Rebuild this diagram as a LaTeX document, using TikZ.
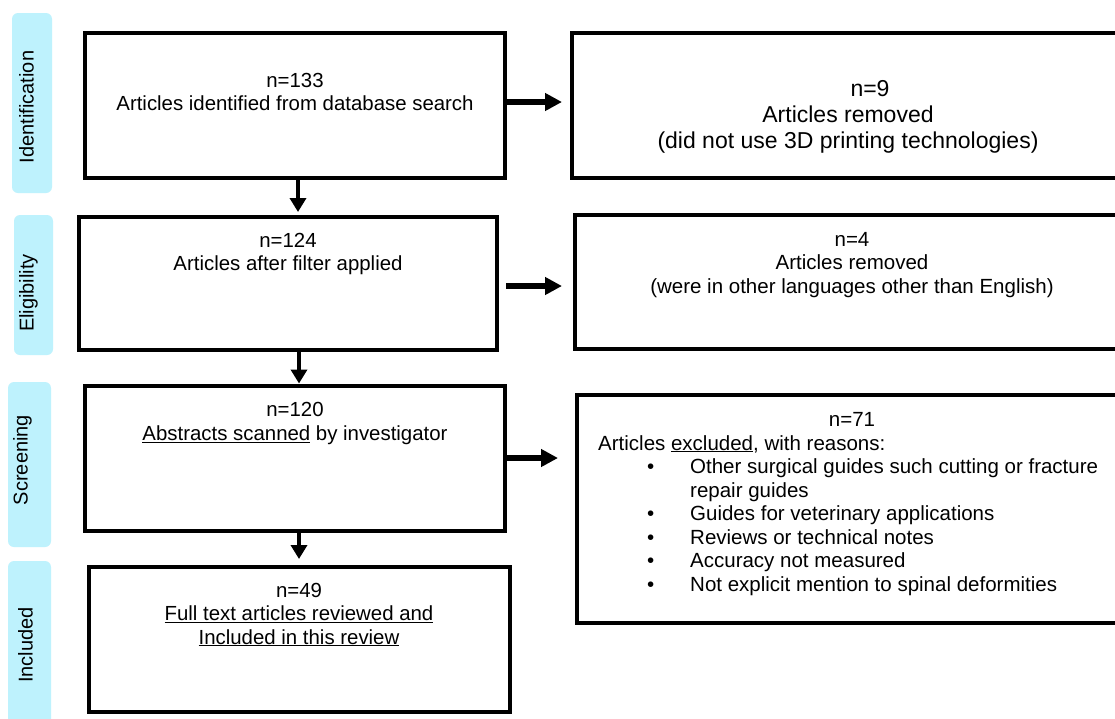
\documentclass[tikz,border=0pt]{standalone}
\usepackage{fontspec}
\setmainfont{Liberation Sans}
\usetikzlibrary{arrows.meta}
\definecolor{labelcyan}{RGB}{190,242,253}
\begin{document}
\begin{tikzpicture}[x=1pt,y=-1pt,
  box/.style={draw=black, line width=4pt, rectangle, inner sep=0pt},
  lab/.style={fill=labelcyan, draw=none, rectangle, rounded corners=6pt, inner sep=0pt},
  labtext/.style={rotate=90, anchor=base, inner sep=0pt, font=\fontsize{20}{24}\selectfont},
  txt/.style={anchor=north, inner sep=0pt, align=center, font=\fontsize{20.4}{23.3}\selectfont},
  harrow/.style={line width=5.5pt, -{Triangle[length=17pt,width=17pt]}},
  varrow/.style={line width=4pt, -{Triangle[length=14pt,width=16pt]}}]
\clip (0,0) rectangle (1115,718);
\fill[white] (0,0) rectangle (1115,718);

% side labels
\node[lab, minimum width=40pt, minimum height=180pt] (L1) at (32,103) {};
\node[labtext] (L1t) at (33.5,107) {Identification};
\node[lab, minimum width=39pt, minimum height=140pt] (L2) at (33.5,285) {};
\node[labtext] (L2t) at (33.6,293) {Eligibility};
\node[lab, minimum width=43pt, minimum height=165pt] (L3) at (29.5,464.5) {};
\node[labtext] (L3t) at (27.5,460) {Screening};
\node[lab, minimum width=43pt, minimum height=180pt] (L4) at (29.5,651) {};
\node[labtext] (L4t) at (32.5,645) {Included};

% boxes
\node[box, minimum width=420pt, minimum height=145pt] (b1) at (295,105.5) {};
\node[box, minimum width=558pt, minimum height=145pt] (b2) at (851,105.5) {};
\node[box, minimum width=418pt, minimum height=133pt] (b3) at (288,283.5) {};
\node[box, minimum width=555pt, minimum height=134pt] (b4) at (852.5,282) {};
\node[box, minimum width=420pt, minimum height=145pt] (b5) at (295,458) {};
\node[box, minimum width=553pt, minimum height=228pt] (b6) at (853.5,509) {};
\node[box, minimum width=421pt, minimum height=145pt] (b7) at (299.5,639.5) {};

% texts
\node[txt] (t1) at (295,73) {n=133\\Articles identified from database search};
\node[txt, font=\fontsize{23}{26}\selectfont] (t2) at (848,80)
  {\hspace*{44pt}n=9\\Articles removed\\(did not use 3D printing technologies)};
\node[txt] (t3) at (288,233) {n=124\\Articles after filter applied};
\node[txt, font=\fontsize{20.5}{23.5}\selectfont] (t4) at (852,232)
  {n=4\\Articles removed\\(were in other languages other than English)};
\node[txt, font=\fontsize{20.4}{24.5}\selectfont] (t5) at (295,402)
  {n=120\\\underline{Abstracts scanned} by investigator};
\node[txt, font=\fontsize{20.5}{23.5}\selectfont] (t6a) at (852,412) {n=71};
\node[anchor=north west, inner sep=0pt, align=left, font=\fontsize{20.5}{23.5}\selectfont] (t6b) at (598,435)
  {Articles \underline{excluded}, with reasons:\\
   \hspace*{49pt}\makebox[43pt][l]{•}Other surgical guides such cutting or fracture\\
   \hspace*{92pt}repair guides\\
   \hspace*{49pt}\makebox[43pt][l]{•}Guides for veterinary applications\\
   \hspace*{49pt}\makebox[43pt][l]{•}Reviews or technical notes\\
   \hspace*{49pt}\makebox[43pt][l]{•}Accuracy not measured\\
   \hspace*{49pt}\makebox[43pt][l]{•}Not explicit mention to spinal deformities};
\node[txt] (t7) at (299,583)
  {n=49\\\underline{Full text articles reviewed and}\\\underline{Included in this review}};

% horizontal arrows
\coordinate (h1) at ([yshift=3.5pt]b1.east);
\draw[harrow, shorten >=8pt] (h1) -- (h1 -| b2.west);
\coordinate (h2) at ([yshift=-2.5pt]b3.east);
\draw[harrow, shorten <=7pt, shorten >=11pt] (h2) -- (h2 -| b4.west);
\draw[harrow, shorten <=-4pt, shorten >=17pt] (b5.east) -- (b5.east -| b6.west);

% vertical arrows
\coordinate (v1) at ([xshift=3pt]b1.south);
\draw[varrow, shorten >=3pt] (v1) -- (v1 |- b3.north);
\coordinate (v2) at ([xshift=11pt]b3.south);
\draw[varrow] (v2) -- (v2 |- b5.north);
\coordinate (v3) at ([xshift=4pt]b5.south);
\draw[varrow, shorten >=6pt] (v3) -- (v3 |- b7.north);
\end{tikzpicture}
\end{document}
